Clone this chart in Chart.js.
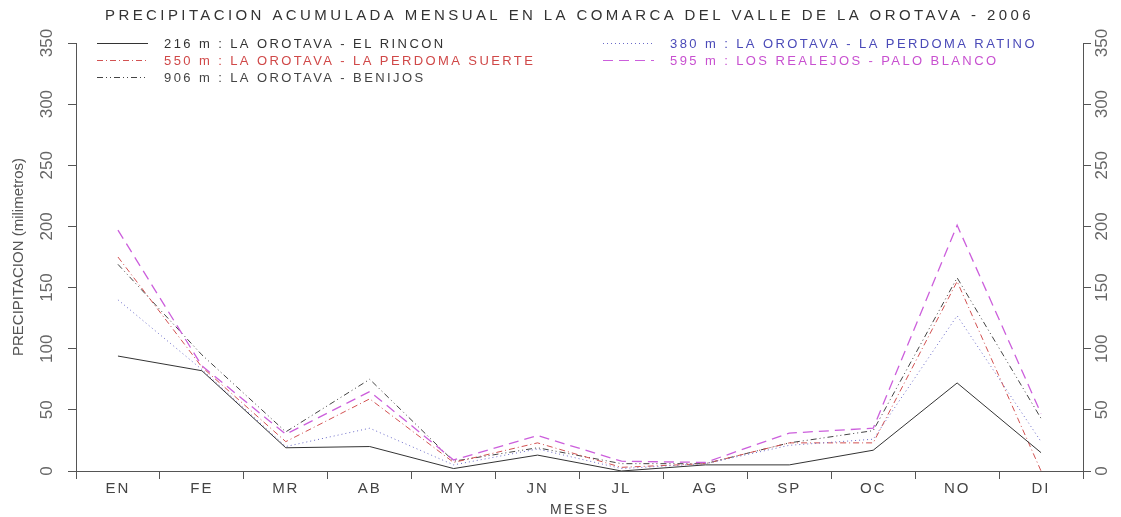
<!DOCTYPE html>
<html>
<head>
<meta charset="utf-8">
<script src="https://cdn.jsdelivr.net/npm/chart.js@4/dist/chart.umd.min.js"></script>
<style>
    html, body { margin: 0; padding: 0; background: #fff; }
    canvas { display: block; }
</style>
</head>
<body>
<canvas id="grafico" width="1121" height="517"></canvas>
<script>
    // datos (mm por mes)
    const meses = ['EN', 'FE', 'MR', 'AB', 'MY', 'JN', 'JL', 'AG', 'SP', 'OC', 'NO', 'DI'];
    const yTicks = [0, 50, 100, 150, 200, 250, 300, 350];

    const rincon216     = [94, 82, 19, 20, 2, 13, 0, 5, 5, 17, 72, 15];
    const ratino380     = [140, 83, 20, 35, 5, 18, 2, 6, 21, 26, 127, 24];
    const suerte550     = [175, 85, 24, 59, 7, 23, 3, 6, 23, 23, 155, 0];
    const paloBlanco595 = [197, 86, 30, 65, 9, 29, 8, 7, 31, 35, 201, 47];
    const benijos906    = [169, 95, 32, 75, 8, 19, 6, 6, 23, 33, 158, 43];

    const nombres = [
        '216 m : LA OROTAVA - EL RINCON',
        '380 m : LA OROTAVA - LA PERDOMA RATINO',
        '550 m : LA OROTAVA - LA PERDOMA SUERTE',
        '595 m : LOS REALEJOS - PALO BLANCO',
        '906 m : LA OROTAVA - BENIJOS'
    ];

    const lineas  = ['#333333', '#6a6ac8', '#d25252', '#cc5fdc', '#444444'];
    const textos  = ['#333333', '#4a4ab8', '#d04848', '#c850d0', '#444444'];
    const guiones = [[], [1, 3], [6, 3, 1, 3], [10, 6], [6, 3, 1, 3, 1, 3]];

    const series = [rincon216, ratino380, suerte550, paloBlanco595, benijos906];

    const fuente = "'Liberation Sans', Arial, sans-serif";
    const fuenteEstrecha = "'Liberation Sans Narrow', 'Liberation Sans', sans-serif";

    // cada eje dibuja su texto con su propio espaciado entre letras;
    // si se pasa ancho, el eje queda con ese ancho fijo
    function espaciar(px, ancho) {
        return function (scale) {
            if (ancho) scale.width = ancho;
            if (scale._espaciado) return;
            const draw = scale.draw;
            scale.draw = function (area) {
                const ctx = this.ctx;
                const prev = ctx.letterSpacing;
                ctx.letterSpacing = px + 'px';
                draw.call(this, area);
                ctx.letterSpacing = prev;
            };
            scale._espaciado = true;
        };
    }

    // titulo con letras espaciadas y algo corrido a la derecha
    const espaciadoTitulo = {
        id: 'espaciadoTitulo',
        beforeDraw(chart) {
            chart.ctx.letterSpacing = '3.4px';
            const bloque = chart.titleBlock;
            if (bloque && !bloque._corrido) {
                const draw = bloque.draw;
                bloque.draw = function (area) {
                    const ctx = this.ctx;
                    ctx.save();
                    ctx.translate(9, 0);
                    draw.call(this, area);
                    ctx.restore();
                };
                bloque._corrido = true;
            }
        }
    };

    // leyenda en dos columnas dentro del area del grafico
    const leyenda = {
        id: 'leyenda',
        afterDatasetsDraw(chart) {
            const ctx = chart.ctx;
            const cols = [97, 603];
            const rows = [43, 60, 77];
            chart.data.datasets.forEach((ds, i) => {
                let x = cols[i % 2];
                let y = rows[Math.floor(i / 2)];
                ctx.save();
                ctx.strokeStyle = ds.borderColor;
                ctx.lineWidth = 1;
                ctx.setLineDash(ds.borderDash);
                ctx.beginPath();
                ctx.moveTo(x, y + 0.5);
                ctx.lineTo(x + 51, y + 0.5);
                ctx.stroke();
                ctx.setLineDash([]);
                ctx.letterSpacing = '2.4px';
                ctx.font = '13px ' + fuente;
                ctx.fillStyle = textos[i];
                ctx.textBaseline = 'middle';
                ctx.textAlign = 'left';
                ctx.fillText(ds.label, x + 67, y + 1);
                ctx.restore();
            });
        }
    };

    const ejeY = (posicion, ancho, padding, extra) => Object.assign({
        position: posicion,
        min: 0,
        max: 350,
        afterBuildTicks: s => { s.ticks = yTicks.map(v => ({ value: v })); },
        afterFit: espaciar(0, ancho),
        grid: { drawOnChartArea: false, tickLength: 8, color: '#555' },
        border: { color: '#555' },
        ticks: {
            color: '#666',
            font: { family: fuenteEstrecha, size: 17, lineHeight: 1 },
            minRotation: 90,
            maxRotation: 90,
            crossAlign: 'center',
            padding: padding
        }
    }, extra);

    const yIzq = ejeY('left', 76, 7, {
        title: {
            display: true,
            text: 'PRECIPITACION (milimetros)',
            color: '#555',
            font: { family: fuenteEstrecha, size: 15, lineHeight: 1 },
            padding: { top: 11, bottom: 2 }
        }
    });

    const yDer = ejeY('right', 38, -3, {});

    new Chart(document.getElementById('grafico'), {
        type: 'line',
        data: {
            labels: meses,
            datasets: series.map((s, i) => ({
                label: nombres[i],
                data: s,
                yAxisID: 'y',
                borderColor: lineas[i],
                borderWidth: i === 3 ? 1.3 : 1,
                borderDash: guiones[i],
                pointRadius: 0,
                tension: 0,
                fill: false
            }))
        },
        options: {
            responsive: false,
            animation: false,
            devicePixelRatio: 1,
            layout: { padding: 0 },
            plugins: {
                legend: { display: false },
                tooltip: { enabled: false },
                title: {
                    display: true,
                    text: 'PRECIPITACION ACUMULADA MENSUAL EN LA COMARCA DEL VALLE DE LA OROTAVA - 2006',
                    color: '#333',
                    font: { family: fuente, size: 15, weight: 'normal', lineHeight: 1.2 },
                    padding: { top: 7, bottom: 18 }
                }
            },
            scales: {
                x: {
                    offset: true,
                    afterFit: espaciar(2),
                    grid: { offset: true, drawOnChartArea: false, tickLength: 8, color: '#555' },
                    border: { color: '#555' },
                    ticks: {
                        color: '#444',
                        font: { family: fuente, size: 15, lineHeight: 1 },
                        padding: 2,
                        maxRotation: 0,
                        autoSkip: false
                    },
                    title: {
                        display: true,
                        text: 'MESES',
                        color: '#444',
                        font: { family: fuente, size: 14, lineHeight: 1 },
                        padding: { top: 5, bottom: 0 }
                    }
                },
                y: yIzq,
                y2: yDer
            }
        },
        plugins: [espaciadoTitulo, leyenda]
    });
</script>
</body>
</html>
